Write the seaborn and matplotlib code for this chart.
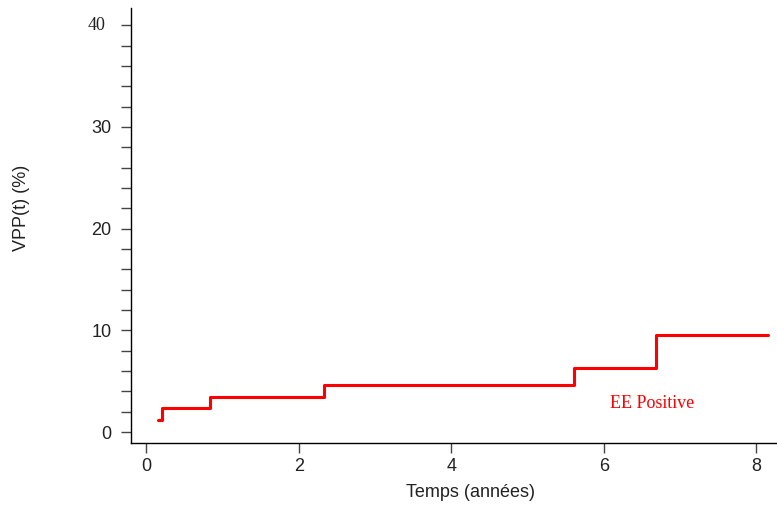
import matplotlib
matplotlib.use("Agg")
import matplotlib.pyplot as plt
import seaborn as sns
import pandas as pd
import numpy as np
from matplotlib.ticker import MultipleLocator

sns.set_theme(style="white")
plt.rcParams['font.family'] = ['Liberation Sans', 'DejaVu Sans']

# Data
time_years = [0.15, 0.21, 0.83, 2.33, 5.61, 6.68, 8.15]
vpp_pct = [1.15, 2.37, 3.45, 4.59, 6.25, 9.5, 9.5]
x_ticks = [0, 2, 4, 6, 8]
y_ticks = [0, 10, 20, 30, 40]
series_label = "EE Positive"

df = pd.DataFrame({"t": time_years, "vpp": vpp_pct})

fig = plt.figure(figsize=(7.77, 5.07), dpi=100)
ax = fig.add_axes([131/777, 64/507, 1 - 131/777, (443-8)/507])

sns.lineplot(data=df, x="t", y="vpp", drawstyle="steps-post", color="#ff0000",
             linewidth=2.2, ax=ax, legend=False)

ax.set_xlim(-0.2, 8.27)
ax.set_ylim(-1.08, 41.7)
ax.set_xticks(x_ticks)
ax.set_yticks(y_ticks)
ax.yaxis.set_minor_locator(MultipleLocator(2))
ax.set_xticklabels([str(v) for v in x_ticks])
ax.set_yticklabels([str(v) if v != 40 else "" for v in y_ticks])

ax.text(-0.039, 40, "40", transform=ax.get_yaxis_transform(), ha="right", va="center",
        fontsize=13, family=["Liberation Serif", "DejaVu Serif"], color="#222222")

for s in ["top", "right"]:
    ax.spines[s].set_visible(False)
for s in ["left", "bottom"]:
    ax.spines[s].set_color("black")
    ax.spines[s].set_linewidth(1.0)

ax.tick_params(axis="both", which="major", direction="out", length=7.2, width=1,
               color="#444444", labelsize=13, labelcolor="#222222",
               left=True, bottom=True)
ax.tick_params(axis="x", which="major", pad=3.6)
ax.tick_params(axis="y", which="major", pad=7)
ax.tick_params(axis="y", which="minor", direction="out", length=7.2, width=1,
               color="#444444", left=True)

ax.set_xlabel("Temps (années)", fontsize=13, color="#222222")
ax.set_ylabel("VPP(t) (%)", fontsize=13, color="#222222")
ax.xaxis.set_label_coords(0.526, -0.095)
ax.yaxis.set_label_coords(-0.157, 0.54)

ax.text(6.63, 2.76, series_label, color="#ff0000", fontsize=13, ha="center",
        va="center", family=["Liberation Serif", "DejaVu Serif"])

fig.savefig("out.png", dpi=100)
